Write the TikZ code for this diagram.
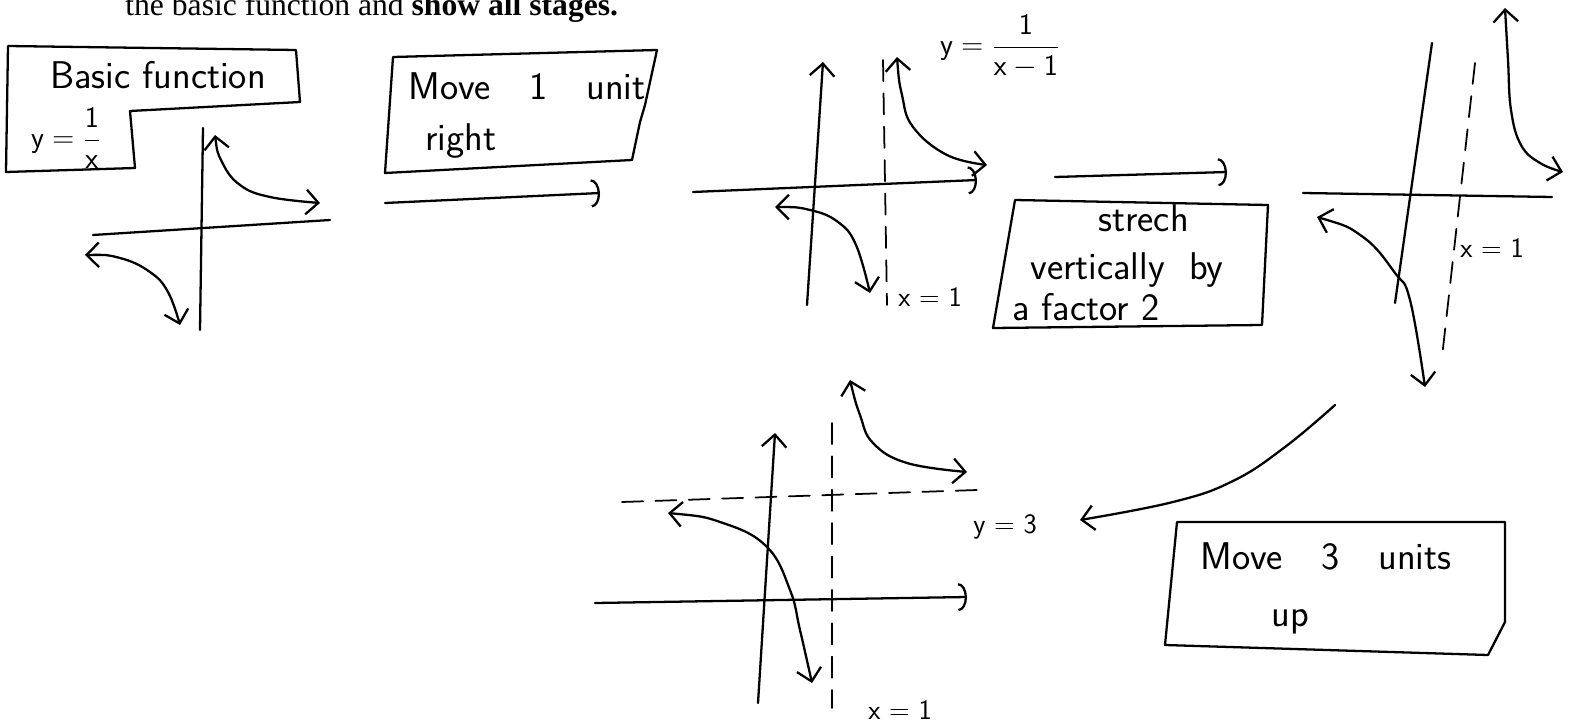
\documentclass[tikz,border=0pt]{standalone}
\usepackage{fontspec}
\newfontfamily\printfont{Liberation Serif}
\usetikzlibrary{arrows.meta}
\begin{document}
\begin{tikzpicture}[x=0.02cm,y=-0.02cm,
  ink/.style={line width=1.3pt, line cap=round, line join=round},
  axis/.style={ink},
  barbs/.style={ink, {Straight Barb[length=7pt,width=14pt]}-{Straight Barb[length=7pt,width=14pt]}},
  tipbarb/.style={ink, -{Straight Barb[length=7pt,width=14pt]}},
  tiparc/.style={ink, -{Arc Barb[length=5pt,width=16pt]}},
  asym/.style={line width=1pt, line cap=round, dash pattern=on 12pt off 7pt},
  hand/.style={font=\sffamily\fontsize{22}{30}\selectfont, inner sep=0pt},
  small hand/.style={font=\sffamily\fontsize{16}{20}\selectfont, inner sep=0pt},
  eqn/.style={font=\sffamily\fontsize{17}{20}\selectfont, inner sep=0pt},
]
\useasboundingbox (0,0) rectangle (1572,723);
\clip (0,0) rectangle (1572,723);

% header line (cut off at the top, as in the source)
\node[anchor=base west, font=\printfont\fontsize{18}{22}\selectfont, inner sep=0pt] (header) at (125,16) {the basic function and \textbf{show all stages.}};

% ---------- stage 1: basic function ----------
\draw[ink] (8,46) -- (296,50) -- (300,102) -- (130,111) -- (135,168) -- (6,172) -- cycle;
\node[hand] (basic) at (158,75) {Basic function};
\node[eqn] (eq1) at (66,138) {$\displaystyle \mathsf{y}=\frac{\mathsf{1}}{\mathsf{x}}$};
\coordinate (v1b) at (200,330); \coordinate (v1t) at (203,128);
\coordinate (h1l) at (93,235); \coordinate (h1r) at (330,220);
\draw[axis] (v1b) -- (v1t);
\draw[axis] (h1l) -- (h1r);
\draw[barbs] plot[smooth, tension=0.7] coordinates {(215,135) (222,162) (240,185) (270,197) (320,203)};
\draw[barbs] plot[smooth, tension=0.7] coordinates {(85,255) (120,258) (150,272) (168,292) (180,325)};

% ---------- step: move 1 unit right ----------
\draw[ink] (393,57) -- (657,50) -- (645,105) -- (640,122) -- (632,160) -- (385,173) -- cycle;
\node[hand, anchor=west] (move1) at (408,86) {Move\quad 1\quad unit};
\node[hand, anchor=west] (right) at (425,141) {right};
\coordinate (s1a) at (385,203); \coordinate (s1b) at (600,193);
\draw[tiparc] (s1a) -- (s1b);

% ---------- stage 2: y = 1/(x-1) ----------
\coordinate (v2b) at (807,305); \coordinate (v2t) at (823,62);
\coordinate (h2l) at (693,192); \coordinate (h2r) at (977,180);
\draw[tipbarb] (v2b) -- (v2t);
\draw[tiparc] (h2l) -- (h2r);
\coordinate (d2t) at (883,60); \coordinate (d2b) at (887,305);
\draw[asym] (d2t) -- (d2b);
\draw[barbs] plot[smooth, tension=0.7] coordinates {(897,57) (902,95) (913,127) (947,155) (987,165)};
\draw[barbs] plot[smooth, tension=0.7] coordinates {(775,207) (810,210) (838,222) (856,245) (870,293)};
\node[small hand] (x1a) at (930,297) {x = 1};
\node[eqn] (eq2) at (1000,46) {$\displaystyle \mathsf{y}=\frac{\mathsf{1}}{\mathsf{x}-\mathsf{1}}$};

% ---------- step: stretch vertically ----------
\coordinate (s2a) at (1055,177); \coordinate (s2b) at (1227,172);
\draw[tiparc] (s2a) -- (s2b);
\draw[ink] (1015,200) -- (1268,205) -- (1262,325) -- (993,328) -- cycle;
\node[hand, anchor=west] (strech) at (1098,218) {strech};
\node[hand, anchor=west] (vert) at (1030,270) {vertically\ \ by};
\node[hand, anchor=west] (factor) at (1012,307) {a factor 2};

% ---------- stage 3: stretched ----------
\coordinate (v3t) at (1432,43); \coordinate (v3b) at (1395,303);
\coordinate (h3l) at (1303,193); \coordinate (h3r) at (1552,197);
\draw[axis] (v3t) -- (v3b);
\draw[axis] (h3l) -- (h3r);
\coordinate (d3t) at (1475,63); \coordinate (d3b) at (1442,357);
\draw[asym] (d3t) -- (d3b);
\draw[barbs] plot[smooth, tension=0.7] coordinates {(1505,8) (1508,60) (1511,110) (1521,145) (1540,163) (1563,172)};
\draw[barbs] plot[smooth, tension=0.7] coordinates {(1317,217) (1363,237) (1395,273) (1410,300) (1425,387)};
\node[small hand] (x1b) at (1492,248) {x = 1};

% ---------- step: move 3 units up ----------
\coordinate (s3a) at (1335,405); \coordinate (s3b) at (1080,520);
\draw[tipbarb] plot[smooth, tension=0.7] coordinates {(s3a) (1285,447) (1233,481) (1173,502) (s3b)};
\draw[ink] (1177,522) -- (1505,522) -- (1505,622) -- (1488,655) -- (1165,645) -- cycle;
\node[hand, anchor=west] (move3) at (1200,556) {Move\quad 3\quad units};
\node[hand] (up) at (1290,622) {up};

% ---------- stage 4: final ----------
\coordinate (v4b) at (758,703); \coordinate (v4t) at (775,433);
\coordinate (h4l) at (595,603); \coordinate (h4r) at (967,597);
\draw[tipbarb] (v4b) -- (v4t);
\draw[tiparc] (h4l) -- (h4r);
\coordinate (d4l) at (622,502); \coordinate (d4r) at (977,490);
\draw[asym] (d4l) -- (d4r);
\coordinate (d4t) at (832,423); \coordinate (d4b) at (832,708);
\draw[asym] (d4t) -- (d4b);
\draw[barbs] plot[smooth, tension=0.7] coordinates {(850,380) (860,415) (873,443) (907,463) (967,472)};
\draw[barbs] plot[smooth, tension=0.7] coordinates {(668,513) (723,523) (767,547) (790,590) (800,630) (812,683)};
\node[small hand] (y3) at (1005,527) {y = 3};
\node[small hand] (x1c) at (900,710) {x = 1};
\end{tikzpicture}
\end{document}
